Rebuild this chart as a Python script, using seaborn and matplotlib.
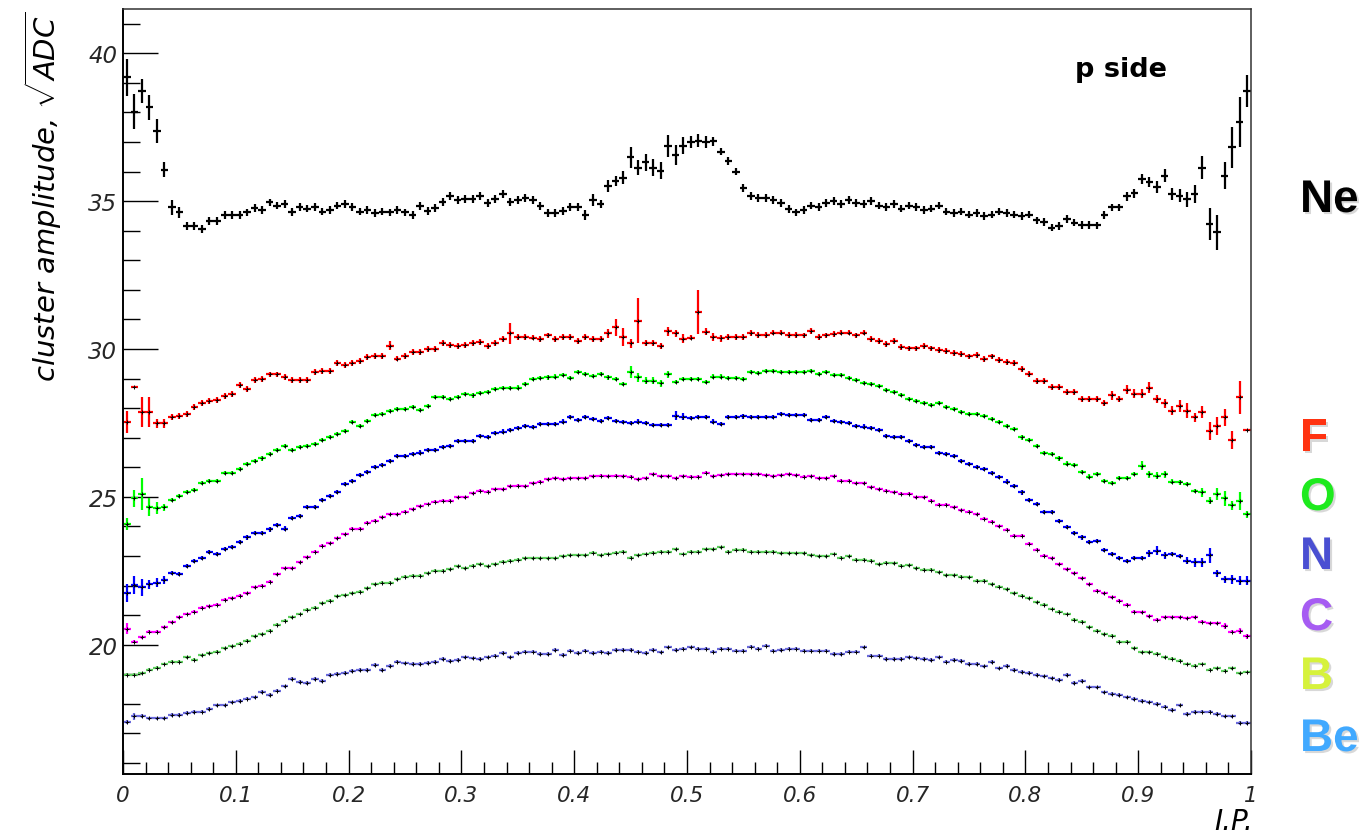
import numpy as np
import pandas as pd
import matplotlib
matplotlib.use("Agg")
import matplotlib.pyplot as plt
import matplotlib.patheffects as pe
from matplotlib.ticker import MultipleLocator
import seaborn as sns

# ---------------------------------------------------------------- data
N_BINS = 150
bin_edges = np.linspace(0.0, 1.0, N_BINS + 1)
ip_centers = 0.5 * (bin_edges[:-1] + bin_edges[1:])

amp_ne = [
    39.19, 38.03, 38.73, 38.17, 37.38, 36.06, 34.79, 34.62, 34.17, 34.17,
    34.06, 34.34, 34.34, 34.53, 34.53, 34.53, 34.62, 34.76, 34.71, 34.96,
    34.85, 34.90, 34.64, 34.80, 34.75, 34.80, 34.65, 34.70, 34.85, 34.90,
    34.80, 34.65, 34.70, 34.60, 34.65, 34.62, 34.70, 34.62, 34.53, 34.83,
    34.68, 34.76, 34.98, 35.18, 35.05, 35.07, 35.07, 35.18, 34.95, 35.07,
    35.25, 34.97, 35.05, 35.10, 35.03, 34.83, 34.60, 34.60, 34.66, 34.80,
    34.80, 34.52, 35.05, 34.90, 35.52, 35.69, 35.80, 36.48, 36.14, 36.31,
    36.14, 36.03, 36.88, 36.57, 36.88, 37.00, 37.05, 37.00, 37.02, 36.68,
    36.37, 36.00, 35.44, 35.17, 35.10, 35.10, 35.05, 34.93, 34.73, 34.62,
    34.70, 34.85, 34.80, 34.95, 35.00, 34.90, 35.05, 34.95, 34.90, 35.00,
    34.85, 34.80, 34.90, 34.75, 34.85, 34.80, 34.70, 34.75, 34.85, 34.65,
    34.60, 34.65, 34.55, 34.60, 34.50, 34.55, 34.65, 34.60, 34.55, 34.50,
    34.55, 34.35, 34.30, 34.11, 34.17, 34.40, 34.28, 34.20, 34.20, 34.18,
    34.53, 34.79, 34.79, 35.16, 35.27, 35.75, 35.66, 35.47, 35.86, 35.24,
    35.18, 35.07, 35.24, 36.14, 34.23, 33.95, 35.86, 36.82, 37.69, 38.73,
]

amp_f = [
    27.52, 28.72, 27.88, 27.88, 27.49, 27.49, 27.69, 27.74, 27.80, 28.03,
    28.17, 28.23, 28.27, 28.40, 28.48, 28.78, 28.65, 28.96, 29.00, 29.14,
    29.14, 29.07, 28.96, 28.96, 28.96, 29.23, 29.26, 29.26, 29.53, 29.46,
    29.53, 29.60, 29.72, 29.76, 29.76, 30.11, 29.68, 29.77, 29.89, 29.89,
    30.00, 30.00, 30.19, 30.15, 30.10, 30.15, 30.19, 30.25, 30.11, 30.19,
    30.34, 30.53, 30.42, 30.42, 30.39, 30.34, 30.46, 30.35, 30.42, 30.42,
    30.28, 30.42, 30.35, 30.35, 30.53, 30.73, 30.42, 30.19, 30.96, 30.19,
    30.19, 30.11, 30.60, 30.53, 30.35, 30.39, 31.26, 30.58, 30.41, 30.37,
    30.41, 30.41, 30.42, 30.55, 30.48, 30.49, 30.56, 30.56, 30.49, 30.48,
    30.46, 30.62, 30.42, 30.46, 30.50, 30.56, 30.56, 30.46, 30.56, 30.35,
    30.28, 30.17, 30.28, 30.06, 30.02, 30.02, 30.11, 30.02, 29.98, 29.92,
    29.87, 29.82, 29.75, 29.80, 29.66, 29.75, 29.63, 29.57, 29.53, 29.32,
    29.15, 28.93, 28.93, 28.72, 28.72, 28.54, 28.54, 28.31, 28.31, 28.31,
    28.17, 28.44, 28.31, 28.62, 28.49, 28.49, 28.70, 28.31, 28.17, 27.91,
    28.08, 27.91, 27.69, 27.86, 27.24, 27.41, 27.69, 26.93, 28.37, 27.26,
]

amp_o = [
    24.08, 24.95, 25.10, 24.65, 24.62, 24.65, 24.90, 25.02, 25.17, 25.24,
    25.47, 25.55, 25.55, 25.81, 25.81, 25.95, 26.11, 26.22, 26.30, 26.45,
    26.60, 26.73, 26.60, 26.68, 26.73, 26.79, 26.93, 27.04, 27.13, 27.24,
    27.52, 27.40, 27.58, 27.77, 27.80, 27.91, 27.97, 27.98, 28.03, 27.95,
    28.07, 28.37, 28.37, 28.31, 28.37, 28.48, 28.43, 28.50, 28.56, 28.65,
    28.67, 28.67, 28.70, 28.82, 28.99, 29.01, 29.04, 29.07, 29.12, 29.02,
    29.21, 29.15, 29.10, 29.15, 29.04, 28.99, 28.82, 29.23, 29.04, 28.93,
    28.93, 28.85, 29.15, 28.88, 29.00, 28.99, 28.99, 28.88, 29.07, 29.07,
    29.02, 29.02, 28.99, 29.21, 29.18, 29.27, 29.27, 29.21, 29.21, 29.21,
    29.21, 29.27, 29.15, 29.21, 29.12, 29.12, 29.02, 28.96, 28.84, 28.82,
    28.74, 28.62, 28.56, 28.45, 28.31, 28.25, 28.17, 28.10, 28.17, 28.03,
    27.97, 27.88, 27.80, 27.80, 27.74, 27.63, 27.54, 27.40, 27.29, 27.01,
    26.93, 26.73, 26.48, 26.45, 26.30, 26.13, 26.07, 25.85, 25.69, 25.77,
    25.55, 25.47, 25.63, 25.63, 25.77, 26.05, 25.77, 25.71, 25.77, 25.52,
    25.49, 25.44, 25.21, 25.15, 24.87, 25.10, 24.95, 24.72, 24.87, 24.42,
]

amp_n = [
    21.75, 22.02, 21.94, 22.05, 22.10, 22.19, 22.42, 22.39, 22.67, 22.84,
    22.92, 23.15, 23.07, 23.24, 23.30, 23.48, 23.63, 23.77, 23.77, 23.90,
    24.05, 23.93, 24.28, 24.36, 24.65, 24.65, 24.90, 25.04, 25.18, 25.43,
    25.55, 25.75, 25.83, 26.00, 26.07, 26.22, 26.39, 26.39, 26.45, 26.50,
    26.60, 26.60, 26.68, 26.73, 26.90, 26.90, 26.90, 27.07, 27.02, 27.16,
    27.21, 27.27, 27.32, 27.41, 27.35, 27.47, 27.47, 27.47, 27.55, 27.69,
    27.61, 27.69, 27.63, 27.58, 27.66, 27.58, 27.52, 27.50, 27.55, 27.50,
    27.43, 27.43, 27.43, 27.74, 27.71, 27.66, 27.69, 27.69, 27.55, 27.47,
    27.69, 27.69, 27.72, 27.69, 27.69, 27.69, 27.69, 27.80, 27.77, 27.77,
    27.77, 27.61, 27.61, 27.69, 27.58, 27.52, 27.50, 27.41, 27.38, 27.32,
    27.27, 27.07, 27.04, 27.04, 26.90, 26.75, 26.68, 26.68, 26.48, 26.45,
    26.37, 26.22, 26.11, 26.00, 25.94, 25.81, 25.66, 25.52, 25.36, 25.15,
    24.90, 24.76, 24.50, 24.50, 24.19, 23.97, 23.78, 23.63, 23.48, 23.52,
    23.21, 23.07, 22.92, 22.84, 22.92, 22.92, 23.10, 23.18, 23.03, 23.07,
    22.99, 22.84, 22.79, 22.79, 23.03, 22.42, 22.22, 22.22, 22.17, 22.17,
]

amp_c = [
    20.55, 20.10, 20.25, 20.44, 20.44, 20.59, 20.76, 20.93, 21.04, 21.12,
    21.26, 21.30, 21.35, 21.52, 21.57, 21.66, 21.75, 21.94, 22.00, 22.13,
    22.39, 22.58, 22.58, 22.79, 22.96, 23.15, 23.35, 23.44, 23.60, 23.74,
    23.93, 23.93, 24.12, 24.19, 24.31, 24.42, 24.42, 24.50, 24.59, 24.68,
    24.76, 24.84, 24.87, 24.87, 24.99, 24.99, 25.13, 25.21, 25.17, 25.26,
    25.26, 25.36, 25.38, 25.36, 25.47, 25.52, 25.59, 25.63, 25.59, 25.63,
    25.63, 25.63, 25.70, 25.72, 25.70, 25.72, 25.70, 25.69, 25.59, 25.63,
    25.77, 25.70, 25.70, 25.63, 25.70, 25.69, 25.69, 25.81, 25.70, 25.74,
    25.77, 25.77, 25.77, 25.77, 25.77, 25.74, 25.70, 25.74, 25.77, 25.74,
    25.69, 25.70, 25.63, 25.63, 25.70, 25.55, 25.55, 25.47, 25.47, 25.32,
    25.26, 25.21, 25.15, 25.10, 25.10, 24.99, 24.99, 24.87, 24.73, 24.73,
    24.65, 24.55, 24.50, 24.42, 24.27, 24.16, 24.00, 23.89, 23.69, 23.69,
    23.41, 23.21, 23.01, 22.92, 22.73, 22.56, 22.42, 22.25, 22.05, 21.83,
    21.75, 21.61, 21.49, 21.35, 21.12, 21.10, 20.96, 20.85, 20.93, 20.93,
    20.93, 20.90, 20.93, 20.78, 20.73, 20.73, 20.62, 20.44, 20.48, 20.28,
]

amp_b = [
    18.98, 18.98, 19.04, 19.15, 19.23, 19.35, 19.43, 19.43, 19.57, 19.49,
    19.65, 19.72, 19.77, 19.88, 19.95, 20.03, 20.14, 20.28, 20.36, 20.48,
    20.67, 20.81, 20.93, 21.04, 21.18, 21.26, 21.41, 21.49, 21.64, 21.68,
    21.75, 21.79, 21.91, 22.05, 22.10, 22.10, 22.22, 22.30, 22.33, 22.33,
    22.42, 22.50, 22.50, 22.56, 22.65, 22.58, 22.67, 22.73, 22.65, 22.73,
    22.81, 22.84, 22.88, 22.92, 22.92, 22.92, 22.92, 22.92, 22.99, 23.03,
    23.03, 23.03, 23.12, 23.03, 23.07, 23.12, 23.14, 22.95, 23.03, 23.07,
    23.12, 23.14, 23.14, 23.23, 23.07, 23.14, 23.14, 23.23, 23.23, 23.29,
    23.14, 23.21, 23.21, 23.14, 23.14, 23.14, 23.14, 23.10, 23.10, 23.10,
    23.10, 23.03, 22.99, 22.99, 23.07, 22.95, 22.99, 22.88, 22.88, 22.84,
    22.73, 22.78, 22.76, 22.67, 22.69, 22.58, 22.54, 22.54, 22.46, 22.35,
    22.35, 22.30, 22.28, 22.17, 22.17, 22.05, 21.97, 21.88, 21.75, 21.66,
    21.57, 21.43, 21.35, 21.21, 21.12, 21.04, 20.85, 20.78, 20.59, 20.48,
    20.36, 20.31, 20.10, 20.10, 19.88, 19.74, 19.74, 19.69, 19.57, 19.52,
    19.46, 19.35, 19.29, 19.35, 19.15, 19.20, 19.12, 19.20, 19.04, 19.08,
]

amp_be = [
    17.38, 17.58, 17.60, 17.51, 17.51, 17.51, 17.62, 17.62, 17.70, 17.72,
    17.74, 17.83, 17.95, 17.95, 18.05, 18.10, 18.18, 18.22, 18.41, 18.30,
    18.45, 18.59, 18.84, 18.75, 18.70, 18.84, 18.78, 18.98, 19.02, 19.04,
    19.12, 19.15, 19.15, 19.31, 19.15, 19.29, 19.43, 19.37, 19.35, 19.35,
    19.38, 19.41, 19.52, 19.46, 19.49, 19.57, 19.54, 19.52, 19.57, 19.63,
    19.72, 19.57, 19.72, 19.77, 19.77, 19.68, 19.68, 19.82, 19.65, 19.80,
    19.72, 19.80, 19.72, 19.77, 19.72, 19.82, 19.82, 19.82, 19.77, 19.72,
    19.82, 19.74, 19.91, 19.82, 19.87, 19.91, 19.87, 19.87, 19.77, 19.87,
    19.87, 19.80, 19.80, 19.94, 19.87, 19.97, 19.80, 19.82, 19.87, 19.87,
    19.80, 19.80, 19.80, 19.80, 19.68, 19.68, 19.77, 19.77, 19.91, 19.63,
    19.63, 19.52, 19.52, 19.52, 19.57, 19.54, 19.52, 19.49, 19.57, 19.43,
    19.49, 19.45, 19.35, 19.35, 19.27, 19.41, 19.20, 19.29, 19.15, 19.08,
    19.04, 18.98, 18.93, 18.86, 18.81, 18.98, 18.70, 18.78, 18.56, 18.56,
    18.39, 18.33, 18.30, 18.22, 18.16, 18.10, 18.05, 17.99, 17.91, 17.80,
    17.95, 17.66, 17.72, 17.74, 17.74, 17.66, 17.58, 17.58, 17.35, 17.35,
]

# statistical errors: a typical value per series plus the bins that differ
err_base = {"Ne": 0.13, "F": 0.10, "O": 0.07, "N": 0.07, "C": 0.05, "B": 0.05, "Be": 0.06}
err_ne = {0: 0.62, 1: 0.60, 2: 0.40, 3: 0.42, 4: 0.40, 5: 0.25, 6: 0.25, 7: 0.20,
          61: 0.17, 62: 0.20, 64: 0.20, 65: 0.17, 66: 0.22, 67: 0.37, 68: 0.25,
          69: 0.30, 70: 0.30, 71: 0.28, 72: 0.37, 73: 0.34, 74: 0.28, 75: 0.20,
          76: 0.22, 77: 0.20, 78: 0.15, 133: 0.15, 134: 0.15, 135: 0.17,
          136: 0.17, 137: 0.20, 138: 0.22, 139: 0.20, 140: 0.22, 141: 0.25,
          142: 0.30, 143: 0.40, 144: 0.55, 145: 0.60, 146: 0.45, 147: 0.70,
          148: 0.85, 149: 0.55}
err_f = {0: 0.37, 1: 0.03, 2: 0.50, 3: 0.50, 4: 0.15, 5: 0.15, 35: 0.15, 51: 0.35,
         64: 0.15, 65: 0.30, 66: 0.30, 67: 0.15, 68: 0.75, 72: 0.15, 73: 0.12,
         74: 0.15, 76: 0.75, 77: 0.12, 78: 0.15, 79: 0.12, 131: 0.15, 133: 0.15,
         134: 0.15, 135: 0.15, 136: 0.20, 137: 0.15, 138: 0.15, 139: 0.15,
         140: 0.20, 141: 0.25, 142: 0.15, 143: 0.20, 144: 0.30, 145: 0.30,
         146: 0.30, 147: 0.30, 148: 0.55, 149: 0.03}
err_o = {0: 0.20, 1: 0.30, 2: 0.55, 3: 0.30, 4: 0.20, 5: 0.12, 67: 0.20, 68: 0.15,
         69: 0.12, 70: 0.12, 71: 0.12, 72: 0.12, 135: 0.15, 136: 0.12,
         137: 0.12, 138: 0.12, 143: 0.15, 144: 0.12, 145: 0.20, 146: 0.25,
         147: 0.15, 148: 0.30, 149: 0.12}
err_n = {0: 0.30, 1: 0.30, 2: 0.30, 3: 0.15, 4: 0.15, 5: 0.12, 73: 0.15, 74: 0.12,
         136: 0.12, 137: 0.15, 138: 0.12, 141: 0.12, 142: 0.15, 143: 0.15,
         144: 0.25, 145: 0.12, 146: 0.12, 147: 0.15, 148: 0.15, 149: 0.15}
err_c = {0: 0.20, 146: 0.10, 148: 0.10, 149: 0.08}
err_b = {}
err_be = {1: 0.12}

series_names = ["Ne", "F", "O", "N", "C", "B", "Be"]
series_values = [amp_ne, amp_f, amp_o, amp_n, amp_c, amp_b, amp_be]
series_errors = [err_ne, err_f, err_o, err_n, err_c, err_b, err_be]
series_colors = ["#000000", "#ff0000", "#00ff00", "#0000ff", "#ff00ff", "#5fcf5f", "#6b6bdc"]

label_names = ["Ne", "F", "O", "N", "C", "B", "Be"]
label_colors = ["#000000", "#ff3311", "#1eea1e", "#4a4fd2", "#a65cf2", "#d6f23c", "#41a9ff"]
label_baselines_px = [213, 452, 511, 570, 631, 690, 752]

x_ticks = [0.0, 0.1, 0.2, 0.3, 0.4, 0.5, 0.6, 0.7, 0.8, 0.9, 1.0]
x_tick_labels = ["0", "0.1", "0.2", "0.3", "0.4", "0.5", "0.6", "0.7", "0.8", "0.9", "1"]
y_ticks = [20, 25, 30, 35, 40]

# ---------------------------------------------------------------- frame
W, H = 1364, 837
sns.set_style("ticks")
plt.rcParams["font.family"] = ["DejaVu Sans"]
plt.rcParams["mathtext.fontset"] = "custom"
plt.rcParams["mathtext.rm"] = "DejaVu Sans:italic"
plt.rcParams["mathtext.it"] = "DejaVu Sans:italic"

fig = plt.figure(figsize=(W / 100, H / 100), dpi=100)
fig.patch.set_facecolor("white")
ax = fig.add_axes([123 / W, 1 - 775 / H, (1251 - 123) / W, (775 - 10) / H])
ax.set_facecolor("white")

half_bin = 0.5 / N_BINS
rows = []
for name, vals, errs, col in zip(series_names, series_values, series_errors, series_colors):
    y = np.asarray(vals)
    yerr = np.array([errs.get(i, err_base[name]) for i in range(N_BINS)])
    ax.errorbar(ip_centers, y, xerr=half_bin, yerr=yerr, fmt="none",
                ecolor=col, elinewidth=1.6, capsize=0, zorder=2)
    for xv, yv in zip(ip_centers, y):
        rows.append({"ip": xv, "amp": yv, "ion": name})

# small black marker at each bin centre
points = pd.DataFrame(rows)
sns.scatterplot(data=points, x="ip", y="amp", marker="+", color="black",
                s=5, linewidth=0.7, legend=False, ax=ax, zorder=3)

ax.set_xlim(0.0, 1.0)
ax.set_ylim(15.63, 41.5)
ax.set_xlabel("")
ax.set_ylabel("")

ax.set_xticks(x_ticks)
ax.set_xticklabels(x_tick_labels)
ax.xaxis.set_minor_locator(MultipleLocator(0.02))
ax.set_yticks(y_ticks)
ax.set_yticklabels([str(v) for v in y_ticks])
ax.yaxis.set_minor_locator(MultipleLocator(1))

ax.tick_params(axis="y", which="major", direction="in", length=25, width=1.0,
               pad=4, labelsize=16.5, color="black")
ax.tick_params(axis="y", which="minor", direction="in", length=12.5, width=1.0, color="black")
ax.tick_params(axis="x", which="major", direction="in", length=17, width=1.0,
               pad=8, labelsize=15.5, color="black")
ax.tick_params(axis="x", which="minor", direction="in", length=8.5, width=1.0, color="black")
ax.tick_params(top=False, right=False, which="both")
for lab in ax.get_xticklabels() + ax.get_yticklabels():
    lab.set_fontstyle("italic")

for side in ["left", "bottom"]:
    ax.spines[side].set_linewidth(1.4)
    ax.spines[side].set_color("black")
for side in ["top", "right"]:
    ax.spines[side].set_visible(True)
    ax.spines[side].set_linewidth(1.1)
    ax.spines[side].set_color("#333333")

# axis titles
fig.text(43 / W, 1 - 12 / H, r"cluster amplitude, $\sqrt{ADC}$", rotation=90,
         ha="center", va="top", fontsize=21, fontstyle="italic", color="black")
fig.text(1253 / W, 1 - 836 / H, "I.P.", ha="right", va="bottom",
         fontsize=20, fontstyle="italic", color="black")

# panel tag
fig.text(1075 / W, 1 - 77 / H, "p side", ha="left", va="baseline",
         fontsize=19.5, fontweight="bold", color="black")

# ion labels at the right margin
shadow = [pe.SimplePatchShadow(offset=(1.5, -1.5), shadow_rgbFace=(0.4, 0.4, 0.4), alpha=0.25),
          pe.Normal()]
for name, col, base in zip(label_names, label_colors, label_baselines_px):
    fig.text(1300 / W, 1 - base / H, name, ha="left", va="baseline",
             fontsize=33, fontweight="bold", color=col,
             family=["Liberation Sans", "DejaVu Sans"], path_effects=shadow)

fig.savefig("out.png", dpi=100, facecolor="white")
